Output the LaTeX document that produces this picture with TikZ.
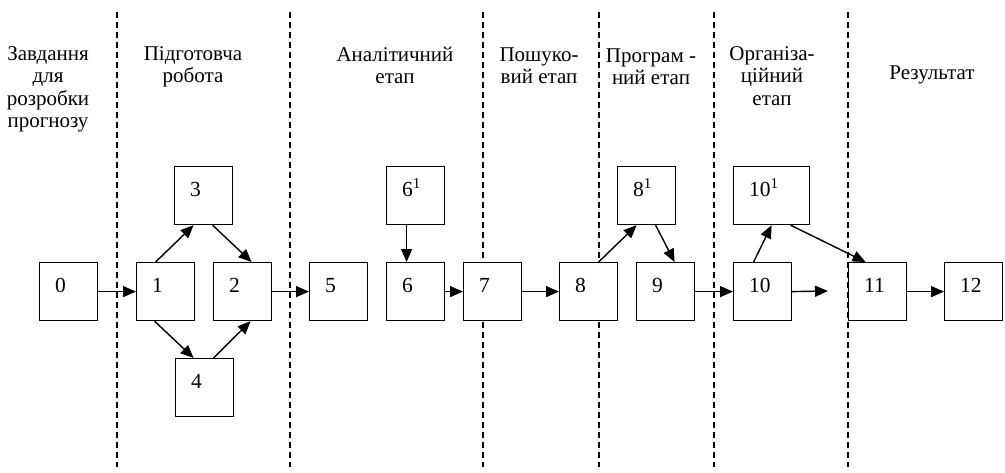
\documentclass[tikz,border=0pt]{standalone}
\usepackage{fontspec}
\setmainfont{Liberation Serif}
\usetikzlibrary{arrows.meta}

\begin{document}
\begin{tikzpicture}[x=1pt, y=-1pt,
		stage/.style={align=center, anchor=base, inner sep=0pt, font=\fontsize{21}{22.5}\selectfont},
		box/.style={draw, line width=1.2pt, fill=white, minimum width=58pt, minimum height=58pt, inner sep=0pt, anchor=north west},
		num/.style={anchor=base west, inner sep=0pt, xshift=16pt, yshift=-30pt, font=\fontsize{21.5}{22.5}\selectfont},
		arr/.style={line width=1.4pt, -{Triangle[length=13pt, width=11pt]}},
		sep/.style={line width=1.1pt, dash pattern=on 6pt off 4pt}]
		
		\useasboundingbox (0,0) rectangle (1005,472);
		
		% Stage borders
		\foreach \x in {117,290,483,599,714,848}
		\draw[sep] (\x,12) -- (\x,467);
		
		% Stage titles (placed by the baseline of the last line)
		\node[stage] (h0) at (48,127.5) {Завдання\\для\\розробки\\прогнозу};
		\node[stage] (h1) at (193,82.5) {Підготовча\\робота};
		\node[stage] (h2) at (395,83.5) {Аналітичний\\етап};
		\node[stage] (h3) at (539,83.5) {Пошуко-\\вий етап};
		\node[stage] (h4) at (651,84.5) {Програм -\\ний етап};
		\node[stage] (h5) at (772,105) {Організа-\\ційний\\етап};
		\node[stage] (h6) at (932,79) {Результат};
		
		% Work boxes
		\node[box, label={[num]north west:0}] (b0) at (39,262) {};
		\node[box, label={[num]north west:1}] (b1) at (136,262) {};
		\node[box, label={[num]north west:2}] (b2) at (213,262) {};
		\node[box, label={[num]north west:3}] (b3) at (174,166) {};
		\node[box, label={[num]north west:4}] (b4) at (175,358) {};
		\node[box, label={[num]north west:5}] (b5) at (309,262) {};
		\node[box, label={[num]north west:{6\textsuperscript{1}}}] (b6a) at (386,166) {};
		\node[box, label={[num]north west:6}] (b6) at (386,262) {};
		\node[box, label={[num]north west:7}] (b7) at (463,262) {};
		\node[box, label={[num]north west:8}] (b8) at (559,262) {};
		\node[box, label={[num]north west:{8\textsuperscript{1}}}] (b8a) at (617,166) {};
		\node[box, label={[num]north west:9}] (b9) at (636,262) {};
		\node[box, minimum width=76pt, label={[num]north west:{10\textsuperscript{1}}}] (b10a) at (733,166) {};
		\node[box, label={[num]north west:10}] (b10) at (733,262) {};
		\node[box, label={[num]north west:11}] (b11) at (848,262) {};
		\node[box, label={[num]north west:12}] (b12) at (944,262) {};
		\coordinate (r10) at (828,291);
		
		% Links
		\draw[arr] (b0.east) -- (b1.west);
		\draw[arr] ([xshift=-10pt]b1.north) -- ([xshift=-10pt]b3.south);
		\draw[arr] ([xshift=9pt]b3.south) -- ([xshift=9pt]b2.north);
		\draw[arr] ([xshift=-11pt]b1.south) -- ([xshift=-11pt]b4.north);
		\draw[arr] ([xshift=9pt]b4.north) -- ([xshift=8pt]b2.south);
		\draw[arr] (b2.east) -- (b5.west);
		\draw[arr] ([xshift=-9pt]b6a.south) -- ([xshift=-9pt]b6.north);
		\draw[arr] (b6.east) -- (b7.west);
		\draw[arr] (b7.east) -- (b8.west);
		\draw[arr] ([xshift=10pt]b8.north) -- ([xshift=-10pt]b8a.south);
		\draw[arr] ([xshift=9pt]b8a.south) -- ([xshift=9pt]b9.north);
		\draw[arr] (b9.east) -- (b10.west);
		\draw[arr] ([xshift=-9pt]b10.north) -- (b10a.south);
		\draw[arr] ([xshift=19pt]b10a.south) -- ([xshift=-12pt]b11.north);
		\draw[arr] (b10.east) -- (r10);
		\draw[arr] (b11.east) -- (b12.west);
		
\end{tikzpicture}
\end{document}
